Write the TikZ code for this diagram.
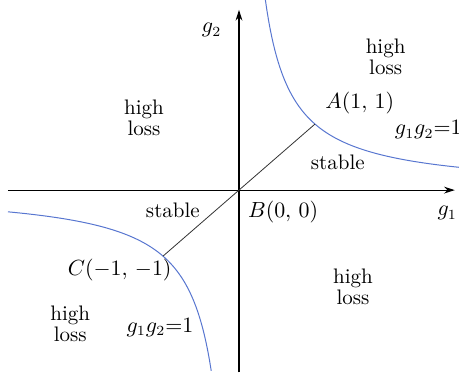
\documentclass[tikz,border=0pt]{standalone}
\usepackage{amsmath}
\usepackage{tikz}
\usetikzlibrary{arrows.meta}
\usepackage{xcolor}
\definecolor{curveblue}{RGB}{88,118,208}

\begin{document}
\begin{tikzpicture}[x=1.335cm, y=1.16cm,
    axis/.style={-{Stealth[length=1.9mm, width=1.2mm]}, line width=0.6pt},
    branch/.style={curveblue, line width=0.5pt},
    diag/.style={black!80, line width=0.4pt},
    lbl/.style={font=\fontsize{10.5}{9}\selectfont, align=center, inner sep=1pt}
]
\useasboundingbox (-3.145, -2.788) rectangle (2.895, 2.879);

% points on the diagonal
\coordinate (B) at (0, 0);
\coordinate (A) at (1, 1);
\coordinate (C) at (-1, -1);

% axes
\coordinate (xl) at (-3.04, 0);
\coordinate (xr) at (2.84, 0);
\coordinate (yb) at (0, -2.76);
\coordinate (yt) at (0, 2.73);
\draw[axis] (xl) -- (xr);
\draw[axis] (yb) -- (yt);
\node[lbl] (g1) at (2.74, -0.35) {$g_1$};
\node[lbl] (g2) at (-0.36, 2.42) {$g_2$};

% hyperbola branches g1 g2 = 1
\draw[branch] plot[domain=0.345:2.9, samples=120] (\x, {1/\x});
\draw[branch] plot[domain=-3.04:-0.365, samples=120] (\x, {1/\x});

% line through the stable points
\draw[diag] (C) -- (A);

% labels
\node[lbl] (hlTR) at (1.93, 2.02) {high\\loss};
\node[lbl] (hlTL) at (-1.25, 1.09) {high\\loss};
\node[lbl] (hlBR) at (1.50, -1.47) {high\\loss};
\node[lbl] (hlBL) at (-2.22, -2.02) {high\\loss};
\node[lbl] (stR) at (1.30, 0.42) {stable};
\node[lbl] (stL) at (-0.87, -0.30) {stable};
\node[lbl] (lA) at (1.59, 1.32) {$A(1,\,1)$};
\node[lbl] (lB) at (0.58, -0.33) {$B(0,\,0)$};
\node[lbl] (lC) at (-1.57, -1.21) {$C(-1,\,-1)$};
\node[lbl] (eqR) at (2.49, 0.91) {$g_1g_2{=}1$};
\node[lbl] (eqL) at (-1.04, -2.08) {$g_1g_2{=}1$};

\end{tikzpicture}
\end{document}
